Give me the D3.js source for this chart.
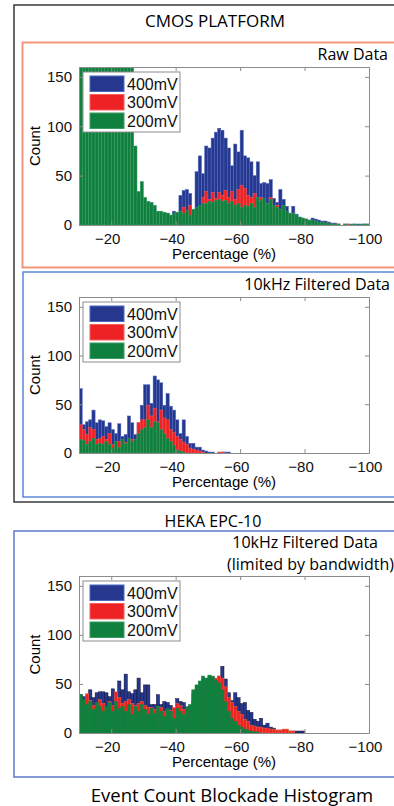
<!DOCTYPE html>
<html>
<head>
<meta charset="utf-8">
<script src="https://cdn.jsdelivr.net/npm/d3@7"></script>
<style>
  body { margin: 0; background: #fff; }
  svg { display: block; }
</style>
</head>
<body>
<div id="wrapper"></div>
<script>
// bins are 1% wide, first bin starts at -10%
const binStarts = d3.range(-10, -100, -1);
const series = ["400mV", "300mV", "200mV"];
const xTicks = [-20, -40, -60, -80, -100];
const yTicks = [0, 50, 100, 150];

// CMOS raw data
const raw400 = [0,0,0,0,0,0,0,0,0,0, 0,0,0,0,0,0,0,0,0,0, 0,0,0,0,0,0,0,12,10,14,
  12,30,35,36,32,15,54,70,52,80, 78,88,94,98,96,88,78,60,82,74, 96,70,68,64,50,64,42,43,42,46,
  27,23,36,26,19,12,19,11,8,7, 6,5,7,6,5,4,4,3,2,2, 1,0,1,1,0,1,1,0,1,1];
const raw300 = [0,0,0,0,0,0,0,0,0,0, 0,0,0,0,0,0,0,0,0,0, 0,0,0,0,0,0,0,6,5,8,
  6,12,18,10,20,8,15,18,28,34, 26,33,27,33,30,35,28,34,26,36, 40,37,30,28,32,24,28,20,22,28,
  15,20,12,16,10,8,12,8,6,5, 6,4,3,3,2,2,2,1,1,1, 1,0,0,1,0,0,0,0,0,0];
const raw200 = [330,310,300,290,280,270,265,255,245,235, 225,215,205,195,185,175,165,80,34,44,
  28,24,23,20,14,14,13,12,10,12, 13,14,12,15,10,16,18,20,22,22, 24,23,25,26,24,25,22,24,20,22,
  18,20,19,22,18,28,25,27,22,26, 20,18,16,20,14,12,12,10,8,7, 6,5,5,4,3,3,2,2,1,1,
  1,0,1,0,1,1,0,1,1,1];

// CMOS 10kHz filtered
const filt400 = [66,29,32,34,44,31,34,33,27,31, 24,20,30,17,19,38,31,19,31,49,
  70,70,51,79,75,72,49,61,48,44, 34,20,34,17,10,10,6,6,3,2, 1,1,0,0,1,1,1,0,0,0];
const filt300 = [29,24,19,26,24,14,15,17,14,20, 9,8,12,12,11,13,14,10,31,34,
  34,49,38,46,32,44,36,34,24,21, 17,14,11,9,5,4,3,2,1,0, 0,0,0,1,1,0,0,0,0,0];
const filt200 = [14,13,9,12,15,9,10,9,12,9, 5,12,6,14,10,15,12,14,20,24,
  26,34,26,32,31,24,20,15,12,8, 3,2,1,0,0,0,0,0,0,0];

// HEKA EPC-10 10kHz filtered
const heka400 = [39,37,37,44,36,41,42,42,41,37, 45,41,53,44,60,42,40,44,56,41,
  49,49,29,29,39,29,32,31,28,24, 35,32,31,25,27,32,40,44,48,50, 52,54,53,58,68,55,41,33,41,36,
  30,31,23,21,14,12,15,8,10,6, 5,3,3,3,3,2,2,2,2,2];
const heka300 = [30,30,40,33,28,30,34,30,26,32, 28,42,36,30,32,34,30,28,30,32,
  28,26,26,24,27,26,22,24,23,26, 30,28,24,22,26,40,45,50,55,53, 58,57,56,58,56,47,36,31,27,22,
  19,14,12,8,7,6,6,5,5,4, 4,3,3,4,4,2,2];
const heka200 = [39,34,29,32,24,31,27,22,27,31, 22,32,25,27,22,29,19,27,22,29,
  24,19,25,20,27,22,17,25,22,15, 25,22,19,27,29,44,49,53,58,56, 59,58,54,51,44,32,22,15,12,8,
  6,4,3,2,1,1];

const W = 394, H = 806;
const left = 79, right = 369;
const colors = { "400mV": "#25388e", "300mV": "#ee2125", "200mV": "#10803f" };
const edges = { "400mV": "#4f68c2", "300mV": "#f5605a", "200mV": "#3a9c62" };
const sans = "'Liberation Sans', Arial, sans-serif";
const titleFont = "'Open Sans', sans-serif";

const svg = d3.select("#wrapper").append("svg")
  .attr("width", W).attr("height", H);

// panel frames (they run off the right edge)
svg.append("rect").attr("x", 14).attr("y", 5).attr("width", 420).attr("height", 497)
  .attr("fill", "none").attr("stroke", "#3a3a3a").attr("stroke-width", 1.5);
svg.append("rect").attr("x", 22.5).attr("y", 42.5).attr("width", 420).attr("height", 225)
  .attr("fill", "none").attr("stroke", "#f5957c").attr("stroke-width", 2);
svg.append("rect").attr("x", 23).attr("y", 272).attr("width", 420).attr("height", 225)
  .attr("fill", "none").attr("stroke", "#5d88d6").attr("stroke-width", 1.5);
svg.append("rect").attr("x", 14).attr("y", 531).attr("width", 420).attr("height", 246)
  .attr("fill", "none").attr("stroke", "#5b78cc").attr("stroke-width", 1.5);

svg.append("text").attr("x", 215).attr("y", 27).attr("text-anchor", "middle")
  .style("font-family", titleFont).style("font-size", "17px").text("CMOS PLATFORM");
svg.append("text").attr("x", 388).attr("y", 60).attr("text-anchor", "end")
  .style("font-family", titleFont).style("font-size", "16px").text("Raw Data");
svg.append("text").attr("x", 390).attr("y", 290).attr("text-anchor", "end")
  .style("font-family", titleFont).style("font-size", "16px").text("10kHz Filtered Data");
svg.append("text").attr("x", 213).attr("y", 527).attr("text-anchor", "middle")
  .style("font-family", titleFont).style("font-size", "16px").text("HEKA EPC-10");
svg.append("text").attr("x", 378).attr("y", 548).attr("text-anchor", "end")
  .style("font-family", titleFont).style("font-size", "16px").text("10kHz Filtered Data");
svg.append("text").attr("x", 394).attr("y", 570).attr("text-anchor", "end")
  .style("font-family", titleFont).style("font-size", "16px").text("(limited by bandwidth)");
svg.append("text").attr("x", 232).attr("y", 802).attr("text-anchor", "middle")
  .style("font-family", titleFont).style("font-size", "18.5px").text("Event Count Blockade Histogram");

function drawPanel(id, top, bottom, data, barEdge) {
  const x = d3.scaleLinear().domain([-10, -100]).range([left, right]);
  const y = d3.scaleLinear().domain([0, 160]).range([bottom, top]);
  const g = svg.append("g");

  g.append("clipPath").attr("id", "clip" + id)
    .append("rect").attr("x", left).attr("y", top)
    .attr("width", right - left).attr("height", bottom - top);

  const bars = g.append("g").attr("clip-path", "url(#clip" + id + ")");
  series.forEach((s, k) => {
    const vals = data[k];
    bars.append("g").selectAll("rect")
      .data(binStarts.map((b, i) => ({ b, v: vals[i] || 0 })).filter(d => d.v > 0))
      .join("rect")
      .attr("x", d => x(d.b))
      .attr("width", x(d3.min([0, 0]) - 1) - x(0))
      .attr("y", d => y(d.v))
      .attr("height", d => bottom - y(d.v))
      .attr("fill", colors[s])
      .attr("stroke", barEdge ? barEdge[s] : edges[s])
      .attr("stroke-width", 0.5);
  });

  // axes, ticks pointing inward on all four sides
  const axisColor = "#8c8c8c";
  const xb = g.append("g").attr("transform", `translate(0,${bottom})`)
    .call(d3.axisBottom(x).tickValues(xTicks).tickSize(-4).tickPadding(8)
      .tickFormat(d => "\u2212" + Math.abs(d)));
  const xt = g.append("g").attr("transform", `translate(0,${top})`)
    .call(d3.axisTop(x).tickValues(xTicks).tickSize(-4).tickFormat(""));
  const yl = g.append("g").attr("transform", `translate(${left},0)`)
    .call(d3.axisLeft(y).tickValues(yTicks).tickSize(-4).tickPadding(7));
  const yr = g.append("g").attr("transform", `translate(${right},0)`)
    .call(d3.axisRight(y).tickValues(yTicks).tickSize(-4).tickFormat(""));
  [xb, xt, yl, yr].forEach(a => {
    a.select(".domain").attr("stroke", axisColor);
    a.selectAll(".tick line").attr("stroke", axisColor);
    a.selectAll("text").attr("fill", "#111")
      .style("font-family", sans).style("font-size", "15px");
  });
  xb.selectAll("text").attr("dx", "-4");

  g.append("text").attr("x", (left + right) / 2).attr("y", bottom + 34)
    .attr("text-anchor", "middle").style("font-family", sans).style("font-size", "15px")
    .text("Percentage (%)");
  g.append("text")
    .attr("transform", `translate(40,${(top + bottom) / 2}) rotate(-90)`)
    .attr("text-anchor", "middle").style("font-family", sans).style("font-size", "15px")
    .text("Count");

  // legend
  const lg = g.append("g").attr("transform", `translate(${left + 4},${top + 5})`);
  lg.append("rect").attr("width", 97).attr("height", 60)
    .attr("fill", "#fff").attr("stroke", "#8c8c8c").attr("stroke-width", 1);
  series.forEach((s, k) => {
    lg.append("rect").attr("x", 7).attr("y", 4 + k * 18.5).attr("width", 34).attr("height", 15.5)
      .attr("fill", colors[s]).attr("stroke", edges[s]).attr("stroke-width", 1);
    lg.append("text").attr("x", 44).attr("y", 17.5 + k * 18.5)
      .style("font-family", sans).style("font-size", "16px").attr("fill", "#111").text(s);
  });
}

drawPanel(1, 67, 225, [raw400, raw300, raw200]);
drawPanel(2, 297, 453, [filt400, filt300, filt200]);
drawPanel(3, 576, 733, [heka400, heka300, heka200],
  { "400mV": "#101030", "300mV": "#f06a40", "200mV": "#10803f" });
</script>
</body>
</html>
